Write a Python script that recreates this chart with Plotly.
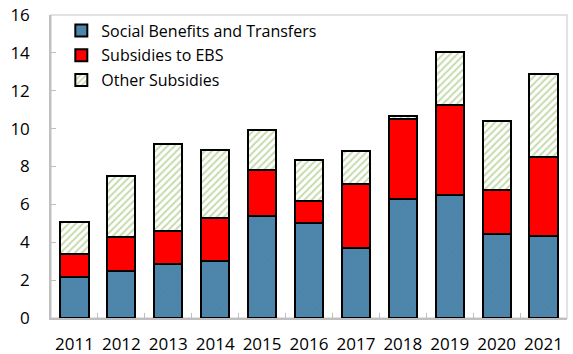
import plotly.graph_objects as go

years = ["2011", "2012", "2013", "2014", "2015", "2016", "2017", "2018", "2019", "2020", "2021"]
social = [2.16, 2.5, 2.85, 3.0, 5.4, 5.0, 3.7, 6.3, 6.5, 4.45, 4.35]
ebs = [1.22, 1.8, 1.75, 2.3, 2.4, 1.2, 3.35, 4.2, 4.75, 2.3, 4.15]
other = [1.67, 3.2, 4.6, 3.55, 2.15, 2.15, 1.75, 0.15, 2.8, 3.65, 4.4]
ytick_vals = [0, 2, 4, 6, 8, 10, 12, 14, 16]

font_family = "Open Sans, Noto Sans, DejaVu Sans, sans-serif"

fig = go.Figure()
fig.add_trace(go.Bar(
    x=years, y=social, name="Social Benefits and Transfers", legendgroup="a",
    marker=dict(color="#4D86AA", line=dict(color="black", width=2),
                pattern=dict(shape="\\", fgcolor="#4780A3", size=4, solidity=0.2)),
))
fig.add_trace(go.Bar(
    x=years, y=ebs, name="Subsidies to EBS", legendgroup="b",
    marker=dict(color="#FF0000", line=dict(color="black", width=2)),
))
fig.add_trace(go.Bar(
    x=years, y=other, name="Other Subsidies", legendgroup="c",
    marker=dict(color="white", line=dict(color="black", width=2),
                pattern=dict(shape="/", fgcolor="#8DB55A", bgcolor="white", size=5, solidity=0.4)),
))

fig.update_layout(
    barmode="stack",
    bargap=0.4,
    width=573, height=354,
    margin=dict(l=51, r=6, t=15, b=36, autoexpand=False),
    paper_bgcolor="white",
    plot_bgcolor="white",
    font=dict(family=font_family, size=17, color="black"),
    showlegend=True,
    legend=dict(x=0.02, y=1.005, xanchor="left", yanchor="top",
                bgcolor="rgba(0,0,0,0)", font=dict(size=16),
                traceorder="grouped", itemwidth=30, tracegroupgap=1),
    xaxis=dict(
        type="category", showline=True, linecolor="#BFBFBF", linewidth=1.5,
        mirror=False, ticks="inside", tickson="boundaries", ticklen=5,
        tickcolor="#BFBFBF", tickfont=dict(size=17), showgrid=False,
        ticklabelstandoff=10, tickangle=0, automargin=False,
    ),
    yaxis=dict(
        range=[0, 16], tickvals=ytick_vals, showline=True, linecolor="#BFBFBF",
        linewidth=1.5, ticks="inside", ticklen=5, tickcolor="#BFBFBF",
        tickfont=dict(size=17), showgrid=False, zeroline=False,
        ticklabelstandoff=16, automargin=False,
    ),
    shapes=[dict(type="rect", xref="paper", yref="paper", x0=0, y0=0, x1=1, y1=1,
                 line=dict(color="#D9D9D9", width=1.5), layer="below")],
)

fig.write_html("out.html", config={"displayModeBar": False},
               post_script="document.body.style.margin='0px';document.body.style.padding='0px';")
